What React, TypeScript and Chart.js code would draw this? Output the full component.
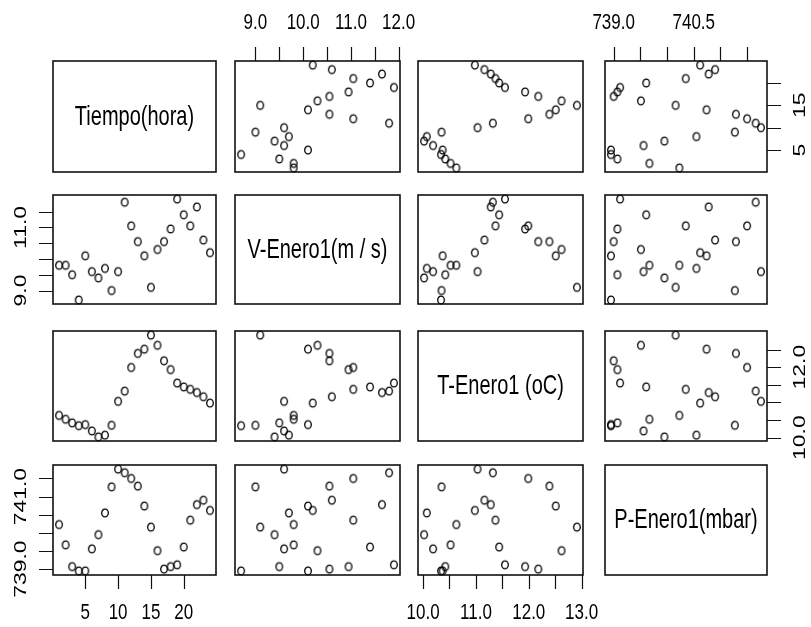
import React, { useEffect, useRef } from "react";
import { Chart, registerables } from "chart.js";
Chart.register(...registerables);

// ---- data (24 hourly observations) ----
const tiempo = [1, 2, 3, 4, 5, 6, 7, 8, 9, 10, 11, 12, 13, 14, 15, 16, 17, 18, 19, 20, 21, 22, 23, 24];
const velocidad = [9.8, 9.8, 9.5, 8.7, 10.1, 9.6, 9.4, 9.7, 9.0, 9.6, 11.8, 11.05, 10.55, 10.1, 9.1, 10.3, 10.55, 10.95, 11.9, 11.4, 11.05, 11.65, 10.6, 10.2];
const temperatura = [10.63, 10.52, 10.42, 10.34, 10.37, 10.19, 10.02, 10.07, 10.35, 11.03, 11.32, 11.99, 12.39, 12.51, 12.91, 12.62, 12.18, 11.93, 11.55, 11.44, 11.37, 11.28, 11.16, 10.98];
const presion = [740.23, 739.67, 739.07, 738.95, 738.95, 739.56, 739.95, 740.55, 741.27, 741.76, 741.66, 741.5, 741.29, 740.74, 740.16, 739.51, 739.0, 739.07, 739.12, 739.61, 740.35, 740.78, 740.9, 740.62];
const varNames = ["Tiempo(hora)", "V-Enero1(m / s)", "T-Enero1 (oC)", "P-Enero1(mbar)"];

// ---- tick values / labels ----
const tiempoTicks = [5, 10, 15, 20];
const tiempoLabelsBottom = [5, 10, 15, 20];
const tiempoLabelsRight = [5, 15];
const vTicksTop = [9, 9.5, 10, 10.5, 11, 11.5, 12];
const vLabelsTop = [9, 10, 11, 12];
const vTicksLeft = [9, 9.5, 10, 10.5, 11, 11.5];
const vLabelsLeft = [9, 11];
const tTicksBottom = [10, 10.5, 11, 11.5, 12, 12.5, 13];
const tLabelsBottom = [10, 11, 12, 13];
const tTicksRight = [10, 10.5, 11, 11.5, 12, 12.5];
const tLabelsRight = [10, 12];
const pTicks = [739, 739.5, 740, 740.5, 741, 741.5];
const pLabelsTop = [739, 740.5];
const pLabelsLeft = [739, 741];

const W = 811;
const H = 627;
const colLeft = [53, 235, 418, 605];
const colRight = [216, 400, 583, 767];
const rowTop = [61, 195, 331, 465];
const rowBottom = [172, 304, 441, 575];

const SY = 1.35; // vertical stretch of text
const FONT = "'Liberation Sans', Arial, sans-serif";
const TICK_LEN = 14;

type AxisSpec = { side: "top" | "bottom" | "left" | "right"; ticks: number[]; labels: number[]; dec: number };

const allVars = [tiempo, velocidad, temperatura, presion];

function rRange(vals: number[]) {
  const mn = Math.min(...vals);
  const mx = Math.max(...vals);
  const pad = (mx - mn) * 0.04;
  return { min: mn - pad, max: mx + pad };
}

function axesFor(r: number, c: number): AxisSpec[] {
  const out: AxisSpec[] = [];
  if (r === 0 && c === 1) out.push({ side: "top", ticks: vTicksTop, labels: vLabelsTop, dec: 1 });
  if (r === 0 && c === 3) out.push({ side: "top", ticks: pTicks, labels: pLabelsTop, dec: 1 });
  if (r === 3 && c === 0) out.push({ side: "bottom", ticks: tiempoTicks, labels: tiempoLabelsBottom, dec: 0 });
  if (r === 3 && c === 2) out.push({ side: "bottom", ticks: tTicksBottom, labels: tLabelsBottom, dec: 1 });
  if (r === 1 && c === 0) out.push({ side: "left", ticks: vTicksLeft, labels: vLabelsLeft, dec: 1 });
  if (r === 3 && c === 0) out.push({ side: "left", ticks: pTicks, labels: pLabelsLeft, dec: 1 });
  if (r === 0 && c === 3) out.push({ side: "right", ticks: tiempoTicks, labels: tiempoLabelsRight, dec: 0 });
  if (r === 2 && c === 3) out.push({ side: "right", ticks: tTicksRight, labels: tLabelsRight, dec: 1 });
  return out;
}

function stretchedText(ctx: CanvasRenderingContext2D, text: string, x: number, y: number, size: number, rotate: boolean) {
  ctx.save();
  ctx.translate(x, y);
  ctx.scale(1, SY);
  if (rotate) ctx.rotate(-Math.PI / 2);
  ctx.font = `${size}px ${FONT}`;
  ctx.fillStyle = "#000";
  ctx.textAlign = "center";
  ctx.textBaseline = "middle";
  ctx.fillText(text, 0, 0);
  ctx.restore();
}

function makePanelPlugin(label: string | null, axes: AxisSpec[]) {
  return {
    id: "pairsPanel",
    afterDraw(chart: any) {
      const ctx: CanvasRenderingContext2D = chart.ctx;
      const a = chart.chartArea;
      ctx.save();
      ctx.strokeStyle = "#111";
      ctx.lineWidth = 1.6;
      ctx.strokeRect(a.left, a.top, a.right - a.left, a.bottom - a.top);
      ctx.lineWidth = 1.2;
      for (const ax of axes) {
        const horizontal = ax.side === "top" || ax.side === "bottom";
        const scale = horizontal ? chart.scales.x : chart.scales.y;
        ctx.beginPath();
        for (const v of ax.ticks) {
          const p = Math.round(scale.getPixelForValue(v)) + 0.5;
          if (ax.side === "bottom") { ctx.moveTo(p, a.bottom); ctx.lineTo(p, a.bottom + TICK_LEN); }
          if (ax.side === "top") { ctx.moveTo(p, a.top); ctx.lineTo(p, a.top - TICK_LEN); }
          if (ax.side === "left") { ctx.moveTo(a.left, p); ctx.lineTo(a.left - TICK_LEN, p); }
          if (ax.side === "right") { ctx.moveTo(a.right, p); ctx.lineTo(a.right + TICK_LEN, p); }
        }
        ctx.stroke();
        for (const v of ax.labels) {
          const p = scale.getPixelForValue(v);
          const txt = v.toFixed(ax.dec);
          if (ax.side === "bottom") stretchedText(ctx, txt, p, a.bottom + 38, 17, false);
          if (ax.side === "top") stretchedText(ctx, txt, p, a.top - 38, 17, false);
          if (ax.side === "left") stretchedText(ctx, txt, a.left - 32, p, 17, true);
          if (ax.side === "right") stretchedText(ctx, txt, a.right + 33, p, 17, true);
        }
      }
      if (label) {
        stretchedText(ctx, label, (a.left + a.right) / 2, (a.top + a.bottom) / 2 + 1, 20, false);
      }
      ctx.restore();
    },
  };
}

function makeMarker() {
  const c = document.createElement("canvas");
  c.width = 10;
  c.height = 12;
  const g = c.getContext("2d")!;
  g.strokeStyle = "#000";
  g.lineWidth = 1.3;
  g.beginPath();
  g.ellipse(5, 6, 3.3, 3.9, 0, 0, Math.PI * 2);
  g.stroke();
  return c;
}

export default function App() {
  const refs = useRef<(HTMLCanvasElement | null)[]>([]);

  useEffect(() => {
    const charts: Chart[] = [];
    const marker = makeMarker();
    for (let r = 0; r < 4; r++) {
      for (let c = 0; c < 4; c++) {
        const canvas = refs.current[r * 4 + c];
        if (!canvas) continue;
        const diag = r === c;
        const xr = rRange(allVars[c]);
        const yr = rRange(allVars[r]);
        const data = diag
          ? []
          : allVars[c].map((v, i) => ({ x: v, y: allVars[r][i] }));
        const chart = new Chart(canvas, {
          type: "scatter",
          data: {
            datasets: [
              {
                data,
                pointStyle: marker as any,
                pointRadius: 4,
                pointHoverRadius: 4,
                showLine: false,
                clip: false as any,
              },
            ],
          },
          options: {
            animation: false,
            responsive: false,
            devicePixelRatio: 1,
            events: [],
            layout: {
              autoPadding: false,
              padding: {
                left: colLeft[c],
                right: W - colRight[c],
                top: rowTop[r],
                bottom: H - rowBottom[r],
              },
            },
            scales: {
              x: { type: "linear", display: false, min: xr.min, max: xr.max },
              y: { type: "linear", display: false, min: yr.min, max: yr.max },
            },
            plugins: {
              legend: { display: false },
              tooltip: { enabled: false },
            },
          },
          plugins: [makePanelPlugin(diag ? varNames[r] : null, axesFor(r, c))],
        });
        charts.push(chart);
      }
    }
    return () => charts.forEach((ch) => ch.destroy());
  }, []);

  return (
    <div style={{ position: "fixed", left: 0, top: 0, width: W, height: H, background: "#fff" }}>
      {Array.from({ length: 16 }).map((_, i) => (
        <canvas
          key={i}
          ref={(el) => {
            refs.current[i] = el;
          }}
          width={W}
          height={H}
          style={{ position: "absolute", left: 0, top: 0 }}
        />
      ))}
    </div>
  );
}
